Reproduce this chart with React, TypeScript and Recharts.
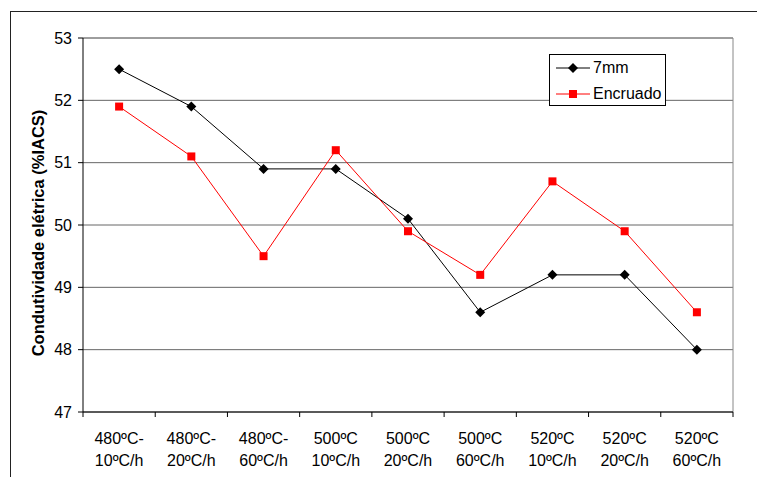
import React from 'react';
import { LineChart, Line, XAxis, YAxis, CartesianGrid, Legend, ReferenceLine, Label } from 'recharts';

const categoryTop = ['480ºC-', '480ºC-', '480ºC-', '500ºC', '500ºC', '500ºC', '520ºC', '520ºC', '520ºC'];
const categoryBottom = ['10ºC/h', '20ºC/h', '60ºC/h', '10ºC/h', '20ºC/h', '60ºC/h', '10ºC/h', '20ºC/h', '60ºC/h'];
const series7mm = [52.5, 51.9, 50.9, 50.9, 50.1, 48.6, 49.2, 49.2, 48.0];
const seriesEncruado = [51.9, 51.1, 49.5, 51.2, 49.9, 49.2, 50.7, 49.9, 48.6];
const yTicks = [47, 48, 49, 50, 51, 52, 53];
const seriesNames = ['7mm', 'Encruado'];
const yTitle = 'Condutividade elétrica (%IACS)';

const data = categoryTop.map((c, i) => ({
  x: i + 0.5,
  top: c,
  bottom: categoryBottom[i],
  s7mm: series7mm[i],
  encruado: seriesEncruado[i],
}));

const xTicks: number[] = [];
for (let i = 0; i <= categoryTop.length; i++) {
  xTicks.push(i);
  if (i < categoryTop.length) xTicks.push(i + 0.5);
}

const FONT = '"Liberation Sans", Arial, sans-serif';

const XTick = (props: any) => {
  const { x, y, payload } = props;
  const v = payload.value;
  if (Number.isInteger(v)) {
    return <line x1={x} y1={y} x2={x} y2={y + 5} stroke="#000" strokeWidth={1} />;
  }
  const idx = Math.floor(v);
  return (
    <g>
      <text x={x} y={y + 32} textAnchor="middle" fontSize={16} fontFamily={FONT} fill="#000">
        {categoryTop[idx]}
      </text>
      <text x={x} y={y + 54} textAnchor="middle" fontSize={16} fontFamily={FONT} fill="#000">
        {categoryBottom[idx]}
      </text>
    </g>
  );
};

const Diamond = (props: any) => {
  const { cx, cy } = props;
  if (cx == null || cy == null) return null;
  const r = 5;
  return <path d={`M${cx},${cy - r} L${cx + r},${cy} L${cx},${cy + r} L${cx - r},${cy} Z`} fill="#000" stroke="none" />;
};

const Square = (props: any) => {
  const { cx, cy } = props;
  if (cx == null || cy == null) return null;
  return <rect x={cx - 4} y={cy - 4} width={8} height={8} fill="#FF0000" stroke="none" />;
};

const YTitle = (props: any) => {
  const vb = props.viewBox || { x: 0, y: 38, width: 83, height: 374 };
  const cx = vb.x + vb.width / 2 - 3.5;
  const cy = vb.y + vb.height / 2 + 8;
  return (
    <text
      x={cx}
      y={cy}
      transform={`rotate(-90, ${cx}, ${cy})`}
      textAnchor="middle"
      dominantBaseline="central"
      fontFamily={FONT}
      fontSize={16.5}
      fontWeight="bold"
      fill="#000"
    >
      {yTitle}
    </text>
  );
};

const LegendBox = () => (
  <div
    style={{
      border: '1px solid #000',
      background: '#fff',
      width: 117,
      height: 52,
      boxSizing: 'border-box',
      fontFamily: FONT,
      fontSize: 16,
      color: '#000',
      position: 'relative',
    }}
  >
    {seriesNames.map((name, i) => (
      <div key={name} style={{ position: 'absolute', left: 6, top: 3 + i * 26, height: 20, display: 'flex', alignItems: 'center' }}>
        <svg width={36} height={12} style={{ display: 'block' }}>
          <line x1={0} y1={6} x2={34} y2={6} stroke={i === 0 ? '#000' : '#FF0000'} strokeWidth={1} />
          {i === 0 ? (
            <path d="M17,1 L22,6 L17,11 L12,6 Z" fill="#000" />
          ) : (
            <rect x={13} y={2} width={8} height={8} fill="#FF0000" />
          )}
        </svg>
        <span style={{ marginLeft: 1, lineHeight: '20px' }}>{name}</span>
      </div>
    ))}
  </div>
);

export default function App() {
  return (
    <div style={{ position: 'absolute', left: 0, top: 0, width: 757, height: 477, background: '#fff', overflow: 'hidden' }}>
      <div
        style={{
          position: 'absolute',
          left: 10,
          top: 11,
          width: 760,
          height: 480,
          borderLeft: '1px solid #222',
          borderTop: '1px solid #222',
        }}
      />
      <div style={{ position: 'absolute', left: 0, top: 0 }}>
        <LineChart width={757} height={477} data={data} margin={{ top: 38, right: 24, left: 0, bottom: 0 }}>
          <CartesianGrid vertical={false} stroke="#666" />
          <ReferenceLine y={53} stroke="#888" />
          <ReferenceLine x={9} stroke="#888" />
          <XAxis
            type="number"
            dataKey="x"
            domain={[0, 9]}
            ticks={xTicks}
            interval={0}
            tickSize={0}
            tickMargin={0}
            tickLine={false}
            axisLine={{ stroke: '#000' }}
            tick={<XTick />}
            height={65}
          />
          <YAxis
            domain={[47, 53]}
            ticks={yTicks}
            interval={0}
            width={83}
            tickSize={5}
            tickMargin={6}
            axisLine={{ stroke: '#000' }}
            tickLine={{ stroke: '#000' }}
            tick={{ fill: '#000', fontSize: 16, fontFamily: FONT }}
          >
            <Label content={<YTitle />} position="center" />
          </YAxis>
          <Legend
            layout="horizontal"
            verticalAlign="middle"
            align="center"
            content={<LegendBox />}
            wrapperStyle={{ position: 'absolute', left: 549, top: 54, width: 117, height: 52 }}
          />
          <Line
            dataKey="s7mm"
            name={seriesNames[0]}
            stroke="#000"
            strokeWidth={1}
            dot={<Diamond />}
            activeDot={false}
            isAnimationActive={false}
          />
          <Line
            dataKey="encruado"
            name={seriesNames[1]}
            stroke="#FF0000"
            strokeWidth={1}
            dot={<Square />}
            activeDot={false}
            isAnimationActive={false}
          />
        </LineChart>
      </div>
    </div>
  );
}
